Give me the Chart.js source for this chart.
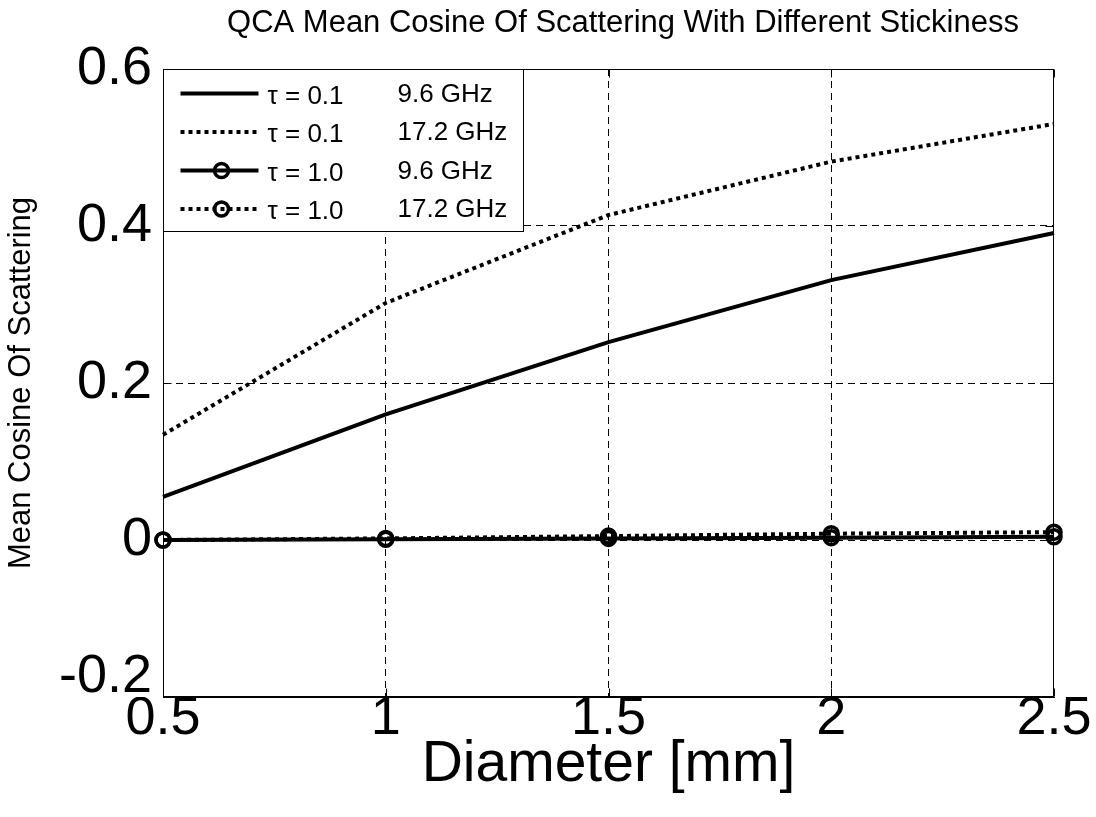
<!DOCTYPE html>
<html>
<head>
<meta charset="utf-8">
<title>QCA Mean Cosine Of Scattering</title>
<script src="https://cdn.jsdelivr.net/npm/chart.js@4.4.1/dist/chart.umd.min.js"></script>
<style>
  html, body { margin: 0; padding: 0; background: #fff; }
  canvas { display: block; }
</style>
</head>
<body>
<canvas id="cosineChart" width="1096" height="817"></canvas>
<script>
// particle diameter [mm]
const diameters = [0.5, 1, 1.5, 2, 2.5];

// mean cosine of scattering for each stickiness / frequency pair
const tau01At96 = [0.055, 0.160, 0.252, 0.331, 0.391];
const tau01At172 = [0.134, 0.302, 0.414, 0.482, 0.530];
const tau10At96 = [0.000, 0.001, 0.002, 0.003, 0.004];
const tau10At172 = [0.000, 0.002, 0.005, 0.008, 0.010];

// legend text, two columns
const tauLabels = ["τ = 0.1", "τ = 0.1", "τ = 1.0", "τ = 1.0"];
const freqLabels = ["9.6 GHz", "17.2 GHz", "9.6 GHz", "17.2 GHz"];

// axis ticks
const xTickValues = [0.5, 1, 1.5, 2, 2.5];
const xTickLabels = ["0.5", "1", "1.5", "2", "2.5"];
const yTickValues = [-0.2, 0, 0.2, 0.4, 0.6];
const yTickLabels = ["-0.2", "0", "0.2", "0.4", "0.6"];

const chartTitle = "QCA Mean Cosine Of Scattering With Different Stickiness";
const xAxisTitle = "Diameter [mm]";
const yAxisTitle = "Mean Cosine Of Scattering";

const FONT = '"Liberation Sans", Arial, Helvetica, sans-serif';

Chart.defaults.font.family = FONT;
Chart.defaults.color = "#000";

// one line dataset, solid or dotted, with or without circle markers
function makeDataset(tau, freq, values, dotted, circles) {
    return {
        label: tau + "  " + freq,
        tauText: tau,
        freqText: freq,
        data: diameters.map((d, i) => ({ x: d, y: values[i] })),
        borderColor: "#000",
        borderWidth: 4,
        borderDash: dotted ? [4, 4] : [],
        borderCapStyle: "butt",
        pointRadius: circles ? 7 : 0,
        pointHoverRadius: circles ? 7 : 0,
        pointBorderWidth: 3.5,
        pointBorderColor: "#000",
        pointBackgroundColor: "rgba(0,0,0,0)",
        tension: 0,
        fill: false,
        clip: false,
    };
}

// no dashed grid line on the box edges, the frame covers those
function innerGridColor(ctx) {
    const last = ctx.scale.ticks.length - 1;
    return (ctx.index === 0 || ctx.index === last) ? "rgba(0,0,0,0)" : "#000";
}

// title above the axes
const titlePlugin = {
    id: "plotTitle",
    afterDraw(chart) {
        const c = chart.ctx;
        c.save();
        c.font = "31px " + FONT;
        c.fillStyle = "#000";
        c.textAlign = "center";
        c.textBaseline = "middle";
        c.fillText(chartTitle, 623, 23);
        c.restore();
    },
};

// solid box round the axes plus small inward tick marks
const framePlugin = {
    id: "axesFrame",
    afterDatasetsDraw(chart) {
        const c = chart.ctx;
        const a = chart.chartArea;
        const xs = chart.scales.x, ys = chart.scales.y;
        const L = Math.round(a.left) + 0.5, R = Math.round(a.right) - 0.5;
        const T = Math.round(a.top) + 0.5, B = Math.round(a.bottom) - 0.5;
        c.save();
        c.strokeStyle = "#000";
        c.lineWidth = 1;
        c.setLineDash([]);
        c.strokeRect(L, T, R - L, B - T);
        c.beginPath();
        xTickValues.forEach(v => {
            const px = Math.round(xs.getPixelForValue(v)) + 0.5;
            c.moveTo(px, B); c.lineTo(px, B - 8);
            c.moveTo(px, T); c.lineTo(px, T + 8);
        });
        yTickValues.forEach(v => {
            const py = Math.round(ys.getPixelForValue(v)) + 0.5;
            c.moveTo(L, py); c.lineTo(L + 8, py);
            c.moveTo(R, py); c.lineTo(R - 8, py);
        });
        c.stroke();
        c.restore();
    },
};

// boxed legend in the upper left corner of the axes
const legendPlugin = {
    id: "boxLegend",
    afterDatasetsDraw(chart) {
        const c = chart.ctx;
        const a = chart.chartArea;
        const boxL = Math.round(a.left) + 0.5, boxT = Math.round(a.top) + 0.5;
        const boxW = 360, boxH = 162;
        c.save();
        c.fillStyle = "#fff";
        c.fillRect(boxL, boxT, boxW, boxH);
        c.strokeStyle = "#000";
        c.lineWidth = 1;
        c.setLineDash([]);
        c.strokeRect(boxL, boxT, boxW, boxH);

        chart.data.datasets.forEach((ds, i) => {
            const rowY = boxT + 24 + i * 38.5;
            // sample line
            c.strokeStyle = ds.borderColor;
            c.lineWidth = ds.borderWidth;
            c.lineCap = "butt";
            c.setLineDash(ds.borderDash);
            c.beginPath();
            c.moveTo(boxL + 17, rowY);
            c.lineTo(boxL + 95, rowY);
            c.stroke();
            c.setLineDash([]);
            if (ds.pointRadius > 0) {
                c.lineWidth = ds.pointBorderWidth;
                c.beginPath();
                c.arc(boxL + 58, rowY, ds.pointRadius, 0, Math.PI * 2);
                c.stroke();
            }
            // two text columns
            c.fillStyle = "#000";
            c.font = "26px " + FONT;
            c.textAlign = "left";
            c.textBaseline = "middle";
            c.fillText(ds.tauText, boxL + 104, rowY + 3);
            c.fillText(ds.freqText, boxL + 234, rowY + 1);
        });
        c.restore();
    },
};

const datasets = [
    makeDataset(tauLabels[0], freqLabels[0], tau01At96, false, false),
    makeDataset(tauLabels[1], freqLabels[1], tau01At172, true, false),
    makeDataset(tauLabels[2], freqLabels[2], tau10At96, false, true),
    makeDataset(tauLabels[3], freqLabels[3], tau10At172, true, true),
];

new Chart(document.getElementById("cosineChart"), {
    type: "line",
    data: { datasets },
    options: {
        responsive: false,
        animation: false,
        events: [],
        layout: { padding: { top: 69, left: 0, right: 0, bottom: 0 } },
        plugins: {
            legend: { display: false },
            title: { display: false },
            tooltip: { enabled: false },
        },
        scales: {
            x: {
                type: "linear",
                min: 0.5,
                max: 2.5,
                afterBuildTicks: s => { s.ticks = xTickValues.map(v => ({ value: v })); },
                afterFit: s => { s.height = 120; s.paddingLeft = 0; s.paddingRight = 42; },
                ticks: {
                    callback: (v, i) => xTickLabels[i],
                    font: { size: 54, lineHeight: 1 },
                    color: "#000",
                    padding: -5,
                    maxRotation: 0,
                    autoSkip: false,
                },
                grid: { color: innerGridColor, lineWidth: 1, drawTicks: false },
                border: { display: true, color: "#000", width: 1, dash: [7, 5] },
                title: {
                    display: true,
                    text: xAxisTitle,
                    font: { size: 57, lineHeight: 1 },
                    color: "#000",
                    padding: { top: 0, bottom: 23 },
                },
            },
            y: {
                type: "linear",
                min: -0.2,
                max: 0.6,
                afterBuildTicks: s => { s.ticks = yTickValues.map(v => ({ value: v })); },
                afterFit: s => { s.width = 163; s.paddingTop = 0; s.paddingBottom = 0; },
                ticks: {
                    // the bottom label sits a little higher so it clears the x labels
                    callback: (v, i) => (i === 0 ? [yTickLabels[i], ""] : yTickLabels[i]),
                    font: ctx => ({ size: 54, lineHeight: ctx.index === 0 ? 0.75 : 1 }),
                    color: "#000",
                    padding: 11,
                },
                grid: { color: innerGridColor, lineWidth: 1, drawTicks: false },
                border: { display: true, color: "#000", width: 1, dash: [7, 5] },
                title: {
                    display: true,
                    text: yAxisTitle,
                    font: { size: 31, lineHeight: 1 },
                    color: "#000",
                    padding: { top: 6, bottom: 0 },
                },
            },
        },
    },
    plugins: [titlePlugin, framePlugin, legendPlugin],
});
</script>
</body>
</html>
